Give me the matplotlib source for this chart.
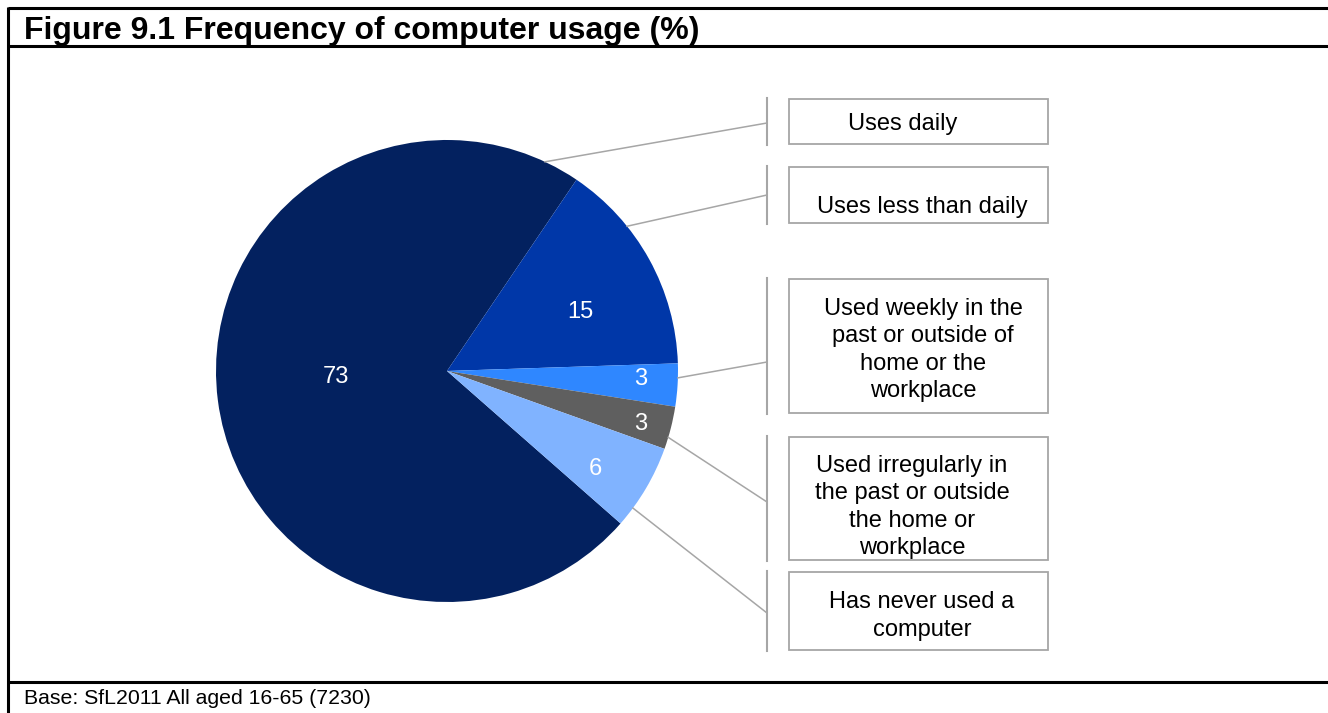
import matplotlib
matplotlib.use("Agg")
import matplotlib.pyplot as plt
import matplotlib.patches as patches
import numpy as np

plt.rcParams['font.family'] = ['Liberation Sans', 'DejaVu Sans']

# data
categories = [
    "Uses daily",
    "Uses less than daily",
    "Used weekly in the\npast or outside of\nhome or the\nworkplace",
    "Used irregularly in\nthe past or outside\nthe home or\nworkplace",
    "Has never used a\ncomputer",
]
values = [73, 15, 3, 3, 6]
colors = ["#03215F", "#0037A8", "#2F87FF", "#5F5F5F", "#80B3FF"]

title = "Figure 9.1 Frequency of computer usage (%)"
footnote = "Base: SfL2011 All aged 16-65 (7230)"

W, H = 1328, 713
fig = plt.figure(figsize=(W / 100, H / 100), dpi=100)
fig.patch.set_facecolor('white')

# pie geometry in pixels (top-left origin)
cx, cy, r = 447, 371, 231
ax = fig.add_axes([(cx - r) / W, (H - cy - r) / H, 2 * r / W, 2 * r / H])
wedges, _, autotexts = ax.pie(values, colors=colors, startangle=318.7, counterclock=False,
                              radius=1, autopct=lambda p: f"{p:.0f}",
                              wedgeprops=dict(linewidth=0),
                              textprops=dict(color='white', fontsize=17))
ax.set_xlim(-1, 1)
ax.set_ylim(-1, 1)
ax.set_aspect('equal')
ax.axis('off')

# move value labels along each wedge's bisector
label_dist = [0.48, 0.63, 0.84, 0.87, 0.77]
label_shift = [-4, -5, 1, -1, -3]
for w, t, d, s in zip(wedges, autotexts, label_dist, label_shift):
    mid = np.radians((w.theta1 + w.theta2) / 2 + s)
    t.set_position((d * np.cos(mid), d * np.sin(mid)))
    t.set_ha('center')
    t.set_va('center')

# overlay in pixel coordinates for frame, leaders and boxes
ov = fig.add_axes([0, 0, 1, 1], facecolor='none')
ov.set_xlim(0, W)
ov.set_ylim(H, 0)
ov.axis('off')

frame_lw = 2.2
ov.plot([8, W], [8, 8], color='black', lw=frame_lw, solid_capstyle='butt')
ov.plot([8, W], [46, 46], color='black', lw=frame_lw, solid_capstyle='butt')
ov.plot([8, W], [682, 682], color='black', lw=frame_lw, solid_capstyle='butt')
ov.plot([8, 8], [7, H], color='black', lw=frame_lw, solid_capstyle='butt')

ov.text(24, 39, title, fontsize=23, fontweight='bold', ha='left', va='baseline')
ov.text(24, 704, footnote, fontsize=15.3, ha='left', va='baseline')

# label boxes on the right
box_x0, box_x1 = 789, 1048
bar_x = 767
box_y = [(99, 144), (167, 223), (279, 413), (437, 560), (572, 650)]
text_xy = [(903, 124), (922, 207), (923, 350), (912, 507), (922, 616)]
# angle on the rim where each leader starts, and where it meets the bar
anchor_deg = [64.9, 38.8, -1.7, -16.7, -36.4]
bar_hit = [123, 195, 362, 502, 613]

for cat, (y0, y1), (tx, ty), a, hy in zip(categories, box_y, text_xy, anchor_deg, bar_hit):
    ov.add_patch(patches.Rectangle((box_x0, y0), box_x1 - box_x0, y1 - y0,
                                   facecolor='white', edgecolor='#A6A6A6', lw=1.3))
    ov.plot([bar_x, bar_x], [y0 - 1, y1 + 1], color='#A6A6A6', lw=1.5)
    rad = np.radians(a)
    sx, sy = cx + r * np.cos(rad), cy - r * np.sin(rad)
    ov.plot([sx, bar_x], [sy, hy], color='#A6A6A6', lw=1.1)
    ov.text(tx, ty, cat, fontsize=17, ha='center', va='center', linespacing=1.33)

fig.savefig("out.png", dpi=100)
